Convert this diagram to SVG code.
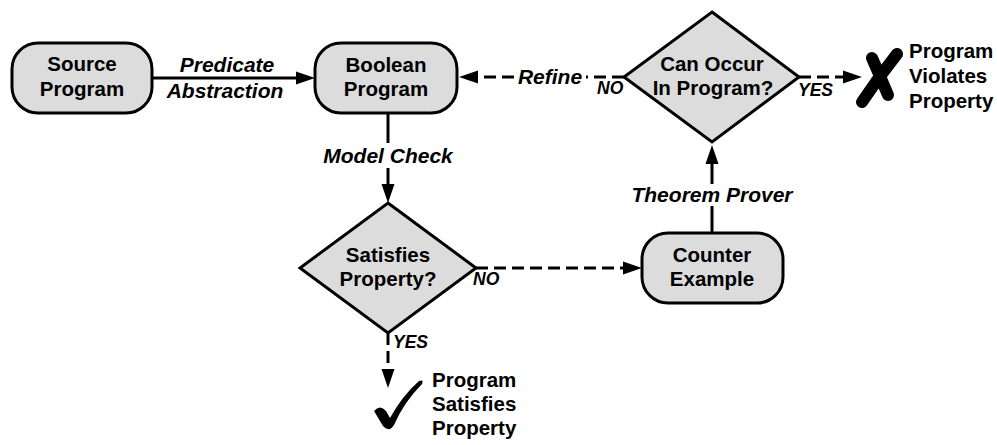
<svg xmlns="http://www.w3.org/2000/svg" width="997" height="445" viewBox="0 0 997 445">
  <style>
    .box { fill: #dcdcdc; stroke: #000; stroke-width: 3; }
    .node-text { font-family: "Liberation Sans", Arial, sans-serif; font-weight: bold; font-size: 20.5px; fill: #000; text-anchor: middle; }
    .result-text { font-family: "Liberation Sans", Arial, sans-serif; font-weight: bold; font-size: 20.5px; fill: #000; text-anchor: start; }
    .edge-label { font-family: "Liberation Sans", Arial, sans-serif; font-weight: bold; font-style: italic; font-size: 21px; fill: #000; text-anchor: middle; }
    .branch-label { font-family: "Liberation Sans", Arial, sans-serif; font-weight: bold; font-style: italic; font-size: 17.5px; fill: #000; text-anchor: start; }
    .solid { fill: none; stroke: #000; stroke-width: 3; }
    .dashed { fill: none; stroke: #000; stroke-width: 3; stroke-dasharray: 12 6; }
    .mark { fill: none; stroke: #000; stroke-width: 12; stroke-linecap: round; }
  </style>
  <defs>
    <marker id="arrow" markerUnits="userSpaceOnUse" viewBox="0 -7 19 14" refX="1" refY="0" markerWidth="19" markerHeight="14" orient="auto">
      <path d="M0,-6.5 L19,0 L0,6.5 Z" fill="#000"/>
    </marker>
  </defs>

  <!-- connectors -->
  <g id="connectors">
    <!-- Source -> Boolean -->
    <path class="solid" d="M152,78 L297,78" marker-end="url(#arrow)"/>
    <text class="edge-label" x="227" y="72">Predicate</text>
    <text class="edge-label" x="225" y="98">Abstraction</text>

    <!-- Boolean -> Satisfies -->
    <path class="solid" d="M388,113 L388,143"/>
    <path class="solid" d="M388,168 L388,185" marker-end="url(#arrow)"/>
    <text class="edge-label" x="388" y="163">Model Check</text>

    <!-- Satisfies -> Counter Example (NO) -->
    <path class="dashed" d="M476,268 L624,268" marker-end="url(#arrow)"/>
    <text class="branch-label" x="473" y="285">NO</text>

    <!-- Satisfies -> Program Satisfies Property (YES) -->
    <path class="dashed" d="M388,333 L388,370" marker-end="url(#arrow)"/>
    <text class="branch-label" x="393" y="348">YES</text>

    <!-- Counter Example -> Can Occur -->
    <path class="solid" d="M712,233 L712,206"/>
    <path class="solid" d="M712,184 L712,163" marker-end="url(#arrow)"/>
    <text class="edge-label" x="712" y="202">Theorem Prover</text>

    <!-- Can Occur -> Boolean (NO, Refine) -->
    <path class="dashed" d="M624,77 L586,77"/>
    <path class="dashed" d="M514,77 L477,77" marker-end="url(#arrow)"/>
    <text class="edge-label" x="550" y="84">Refine</text>
    <text class="branch-label" x="597" y="94">NO</text>

    <!-- Can Occur -> Program Violates Property (YES) -->
    <path class="dashed" d="M799,77 L844,77" marker-end="url(#arrow)"/>
    <text class="branch-label" x="798" y="96">YES</text>
  </g>

  <!-- nodes -->
  <g id="source-program">
    <rect class="box" x="12" y="43" width="140" height="70" rx="26" ry="26"/>
    <text class="node-text" x="82" y="71">Source</text>
    <text class="node-text" x="82" y="96">Program</text>
  </g>

  <g id="boolean-program">
    <rect class="box" x="315" y="43" width="142" height="70" rx="26" ry="26"/>
    <text class="node-text" x="386" y="72">Boolean</text>
    <text class="node-text" x="386" y="96">Program</text>
  </g>

  <g id="satisfies-property">
    <path class="box" d="M388,203 L476,268 L388,333 L300,268 Z"/>
    <text class="node-text" x="388" y="262">Satisfies</text>
    <text class="node-text" x="388" y="286">Property?</text>
  </g>

  <g id="counter-example">
    <rect class="box" x="642" y="233" width="141" height="70" rx="26" ry="26"/>
    <text class="node-text" x="712" y="262">Counter</text>
    <text class="node-text" x="712" y="286">Example</text>
  </g>

  <g id="can-occur">
    <path class="box" d="M712,12 L799,77 L712,142 L624,77 Z"/>
    <text class="node-text" x="712" y="71">Can Occur</text>
    <text class="node-text" x="713" y="95">In Program?</text>
  </g>

  <g id="program-violates-property">
    <path class="mark" d="M897,54 Q878,78 862,102"/>
    <path class="mark" d="M872,58 Q880,76 888,95"/>
    <text class="result-text" x="909" y="58">Program</text>
    <text class="result-text" x="909" y="83">Violates</text>
    <text class="result-text" x="909" y="108">Property</text>
  </g>

  <g id="program-satisfies-property">
    <path d="M374,411 Q380,404 386,411 L390,418 Q402,396 419,381 Q424,379 422,384 Q404,402 394,425 Q389,433 383,426 Z" fill="#000"/>
    <text class="result-text" x="432" y="387">Program</text>
    <text class="result-text" x="432" y="411">Satisfies</text>
    <text class="result-text" x="432" y="435">Property</text>
  </g>
</svg>
